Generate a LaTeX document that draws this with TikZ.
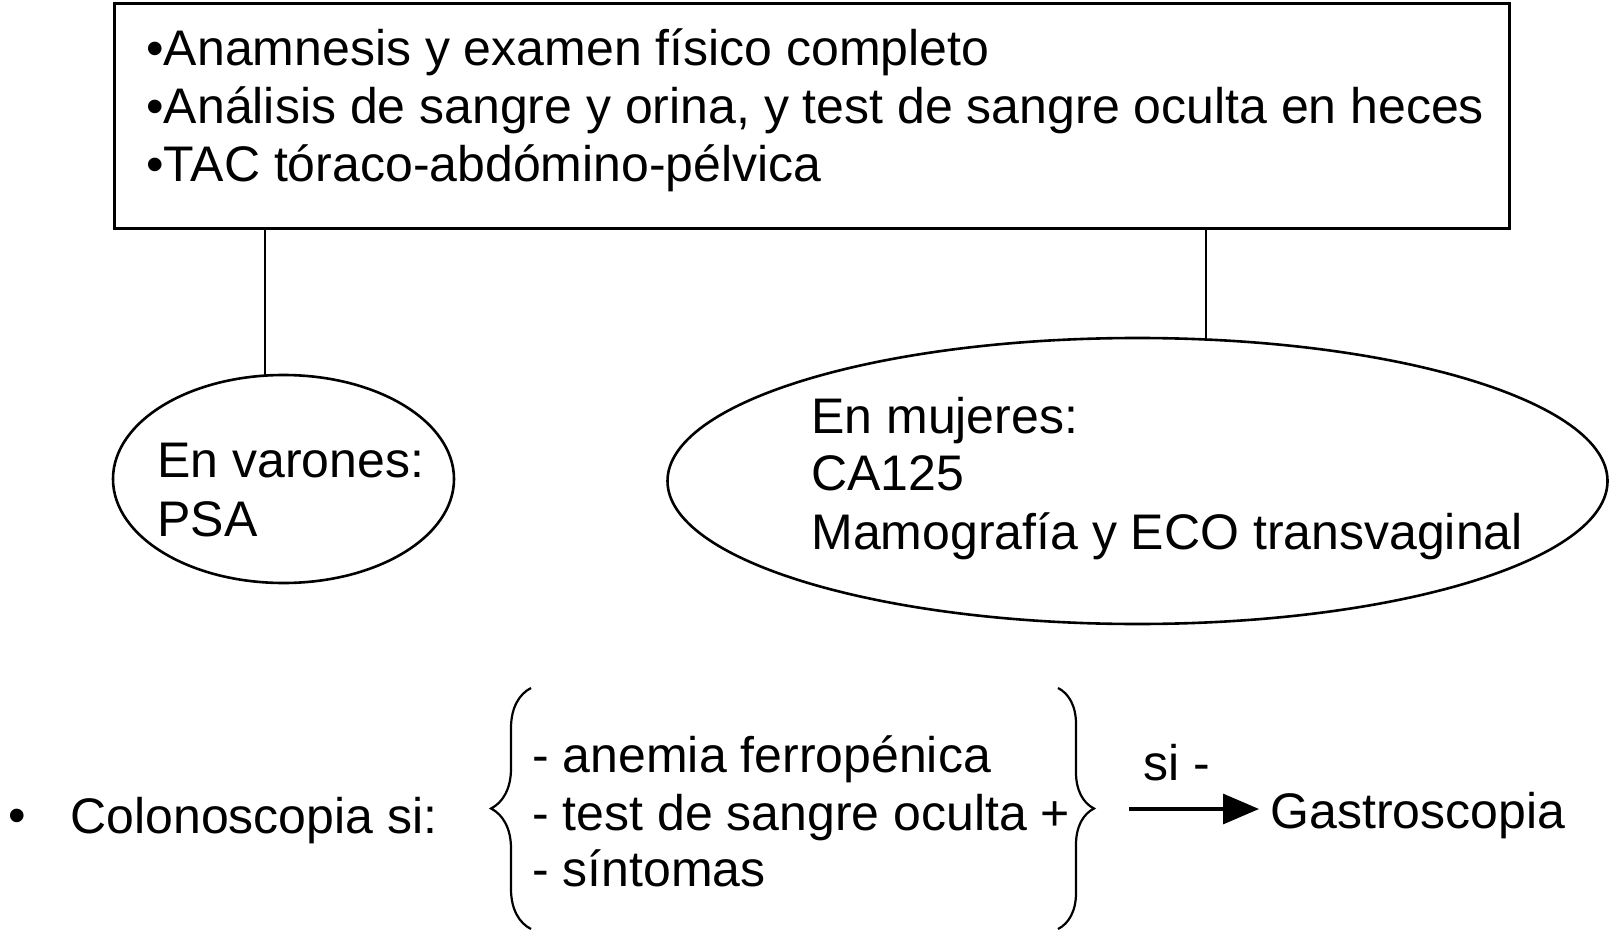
\documentclass[tikz,border=0pt]{standalone}
\usepackage{fontspec}
\setmainfont{Liberation Sans}
\usetikzlibrary{shapes.geometric,decorations.pathreplacing,arrows.meta}
\begin{document}
\begin{tikzpicture}[x=0.5pt,y=-0.5pt,
  txt/.style={anchor=base west,inner sep=0pt,font=\fontsize{25}{30}\selectfont},
  oval/.style={ellipse,draw,line width=1.3pt,inner sep=0pt},
  link/.style={line width=1.1pt},
  brc/.style={line width=1.1pt,decorate,decoration={brace,amplitude=#1}}]
\useasboundingbox (0,0) rectangle (1610,935);
% top box
\node (box) [draw,line width=1.6pt,anchor=north west,minimum width=697.5pt,minimum height=112.5pt,inner sep=0pt] at (113,2) {};
\node (t1) [txt] at (146,66) {•Anamnesis y examen físico completo};
\node (t2) [txt] at (146,124) {•Análisis de sangre y orina, y test de sangre oculta en heces};
\node (t3) [txt] at (146,182) {•TAC tóraco-abdómino-pélvica};
% ellipses
\node (men) [oval,minimum width=170.5pt,minimum height=104pt] at (283.5,479) {};
\node (m1) [txt] at (157,477) {En varones:};
\node (m2) [txt] at (157,536) {PSA};
\node (women) [oval,minimum width=470pt,minimum height=143pt] at (1137.5,481) {};
\node (w1) [txt] at (811,433) {En mujeres:};
\node (w2) [txt] at (811,490) {CA125};
\node (w3) [txt] at (811,549) {Mamografía y ECO transvaginal};
% connectors
\coordinate (lm) at (265,375);
\coordinate (lw) at (1206,339);
\draw[link] (lm |- box.south) -- (lm);
\draw[link] (lw |- box.south) -- (lw);
% bottom
\node (bul) [anchor=base,inner sep=0pt,font=\fontsize{25}{30}\selectfont] at (17,832) {•};
\node (colo) [txt] at (70,833) {Colonoscopia si:};
\draw[brc=20pt] (531,929) -- (531,688);
\node (i1) [txt] at (532,772) {- anemia ferropénica};
\node (i2) [txt] at (532,830) {- test de sangre oculta +};
\node (i3) [txt] at (532,886) {- síntomas};
\draw[brc=18pt] (1058,688) -- (1058,929);
\node (si) [txt] at (1143,780) {si -};
\node (gastro) [txt] at (1270,828) {Gastroscopia};
\coordinate (a1) at (1129,809);
\draw[line width=1.6pt,shorten >=5.5pt,-{Triangle[length=18pt,width=15pt]}] (a1) -- (a1 -| gastro.west);
\end{tikzpicture}
\end{document}
